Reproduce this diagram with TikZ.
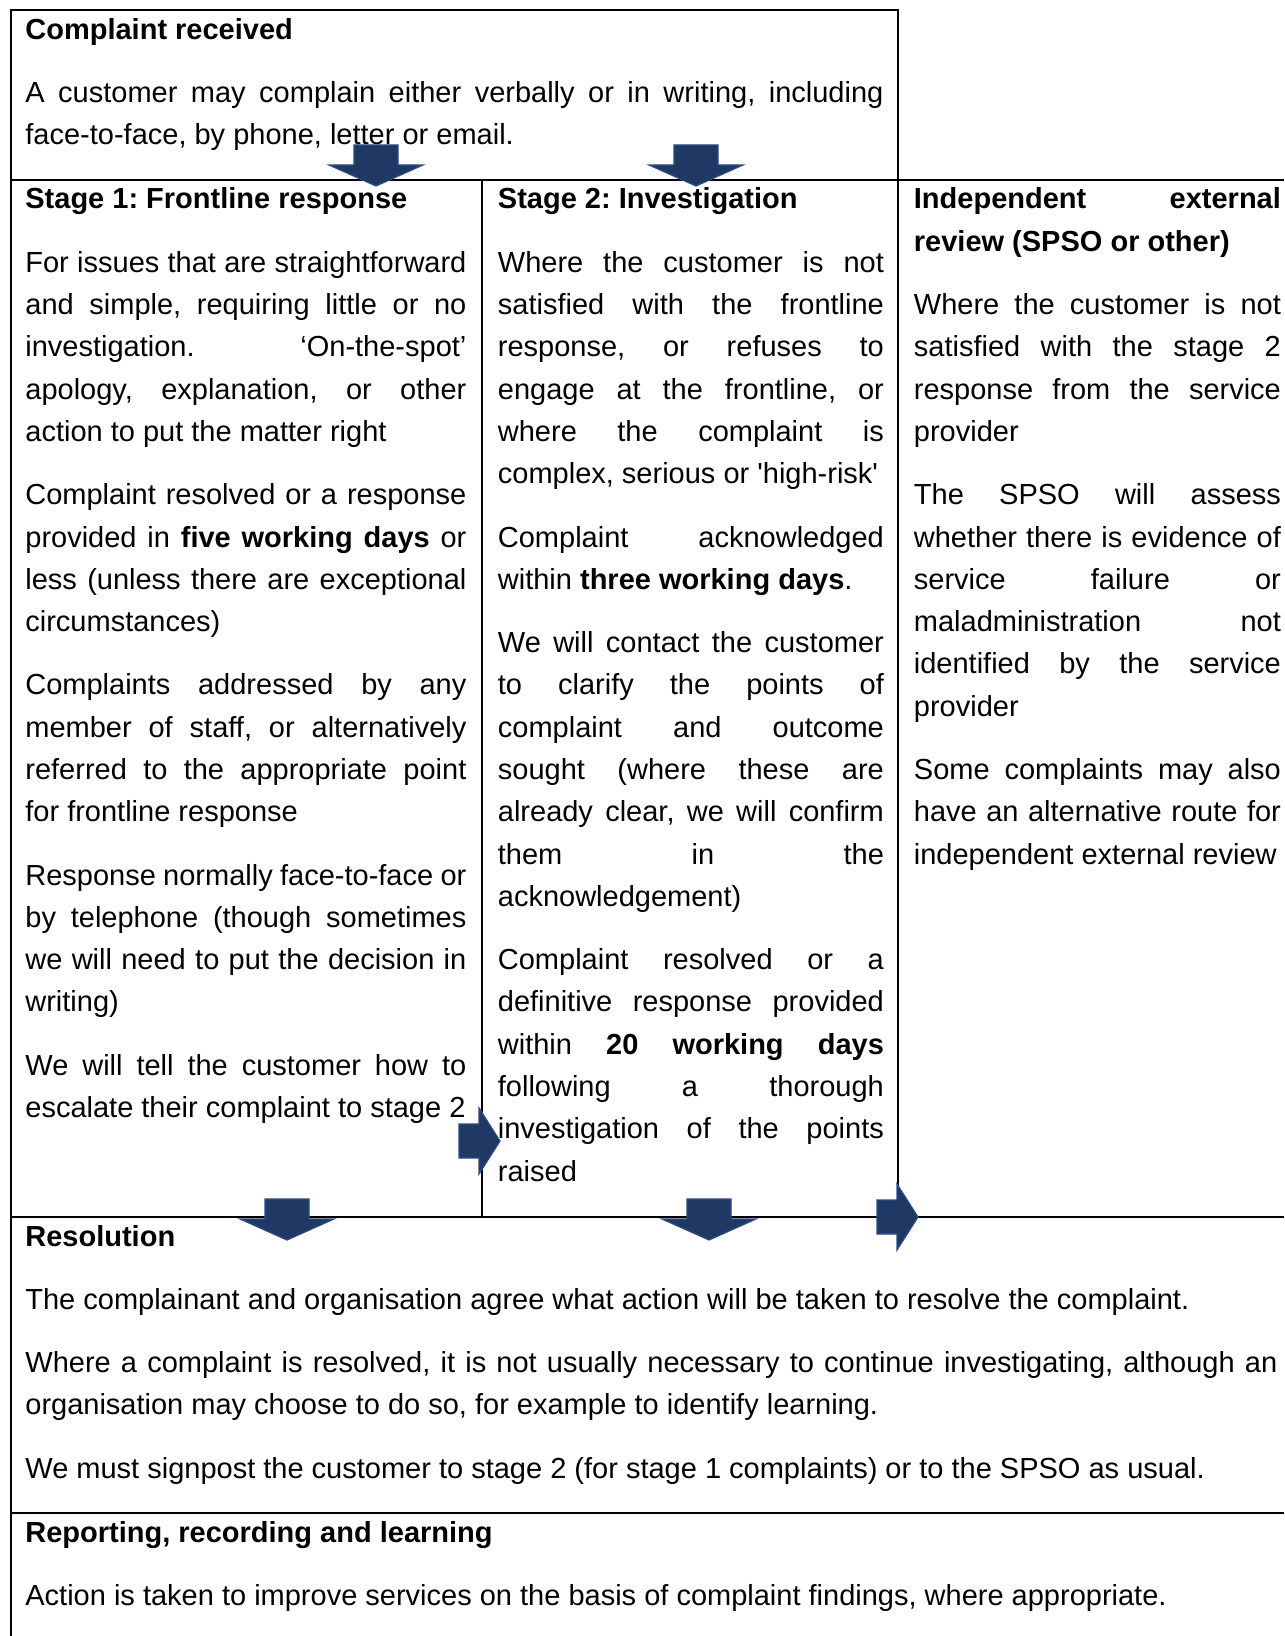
\documentclass[tikz,border=0pt]{standalone}
\usepackage{fontspec}
\setmainfont{Liberation Sans}[Ligatures=TeXOff]
\usepackage{tikz}
\definecolor{arrowblue}{RGB}{31,56,100}
\definecolor{arrowedge}{RGB}{44,76,132}
\newcommand{\cellfont}{\fontsize{14.5}{21.14}\selectfont\frenchspacing\setlength{\parskip}{10.52pt}\setlength{\parindent}{0pt}\hyphenpenalty=10000\exhyphenpenalty=10000\tolerance=10000\hbadness=10000}

\begin{document}
\begin{tikzpicture}[x=0.5pt, y=-0.5pt,
  cell/.style={anchor=north west, inner sep=0pt, align=justify, font=\cellfont, execute at begin node=\strut},
  rule/.style={line width=1pt},
  blockarrow/.style={fill=arrowblue, draw=arrowedge, line width=0.6pt}]
\useasboundingbox (0,0) rectangle (1284,1636);

% Table rules
\draw[rule] (10.5,1636) -- (10.5,10.4) -- (898,10.4) -- (898,180);
\draw[rule] (10.5,180) -- (1284,180);
\draw[rule] (482,180) -- (482,1217);
\draw[rule] (898,180) -- (898,1217);
\draw[rule] (10.5,1217) -- (1284,1217);
\draw[rule] (10.5,1513) -- (1284,1513);

% Cells
\node[cell, text width=429pt] (received) at (25,9.4) {\textbf{Complaint received}\par
A customer may complain either verbally or in writing, including\linebreak face-to-face, by phone, letter or email.};

\node[cell, text width=220.5pt] (frontline) at (25,179) {\textbf{Stage 1: Frontline response}\par
For issues that are straightforward\linebreak and simple, requiring little or no\linebreak investigation. ‘On-the-spot’\linebreak apology, explanation, or other\linebreak action to put the matter right\par
Complaint resolved or a response\linebreak provided in \textbf{five working days} or\linebreak less (unless there are exceptional\linebreak circumstances)\par
Complaints addressed by any\linebreak member of staff, or alternatively\linebreak referred to the appropriate point\linebreak for frontline response\par
Response normally face-to-face or\linebreak by telephone (though sometimes\linebreak we will need to put the decision in\linebreak writing)\par
We will tell the customer how to\linebreak escalate their complaint to stage 2};

\node[cell, text width=193pt] (investigation) at (497.5,179) {\textbf{Stage 2: Investigation}\par
Where the customer is not\linebreak satisfied with the frontline\linebreak response, or refuses to\linebreak engage at the frontline, or\linebreak where the complaint is\linebreak complex, serious or 'high-risk'\par
Complaint acknowledged\linebreak within \textbf{three working days}.\par
We will contact the customer\linebreak to clarify the points of\linebreak complaint and outcome\linebreak sought (where these are\linebreak already clear, we will confirm\linebreak them in the\linebreak acknowledgement)\par
Complaint resolved or a\linebreak definitive response provided\linebreak within \textbf{20 working days}\linebreak following a thorough\linebreak investigation of the points\linebreak raised};

\node[cell, text width=183.5pt] (external) at (913.5,179) {\textbf{Independent external\linebreak review (SPSO or other)}\par
Where the customer is not\linebreak satisfied with the stage 2\linebreak response from the service\linebreak provider\par
The SPSO will assess\linebreak whether there is evidence of\linebreak service failure or\linebreak maladministration not\linebreak identified by the service\linebreak provider\par
Some complaints may also\linebreak have an alternative route for\linebreak independent external review};

\node[cell, text width=626pt] (resolution) at (25,1216) {\textbf{Resolution}\par
The complainant and organisation agree what action will be taken to resolve the complaint.\par
Where a complaint is resolved, it is not usually necessary to continue investigating, although an\linebreak organisation may choose to do so, for example to identify learning.\par
We must signpost the customer to stage 2 (for stage 1 complaints) or to the SPSO as usual.};

\node[cell, text width=626pt] (reporting) at (25,1512) {\textbf{Reporting, recording and learning}\par
Action is taken to improve services on the basis of complaint findings, where appropriate.};

% Block arrows
\foreach \x/\y in {376/186, 696/186, 287/1240, 709/1240} {
  \filldraw[blockarrow] (\x-22,\y-41) -- (\x+22,\y-41) -- (\x+22,\y-21) -- (\x+47,\y-21)
    -- (\x,\y) -- (\x-47,\y-21) -- (\x-22,\y-21) -- cycle;
}
\foreach \x/\y in {500/1141, 918/1217} {
  \filldraw[blockarrow] (\x-41,\y-17) -- (\x-21,\y-17) -- (\x-21,\y-33) -- (\x,\y)
    -- (\x-21,\y+33) -- (\x-21,\y+17) -- (\x-41,\y+17) -- cycle;
}
\end{tikzpicture}
\end{document}
